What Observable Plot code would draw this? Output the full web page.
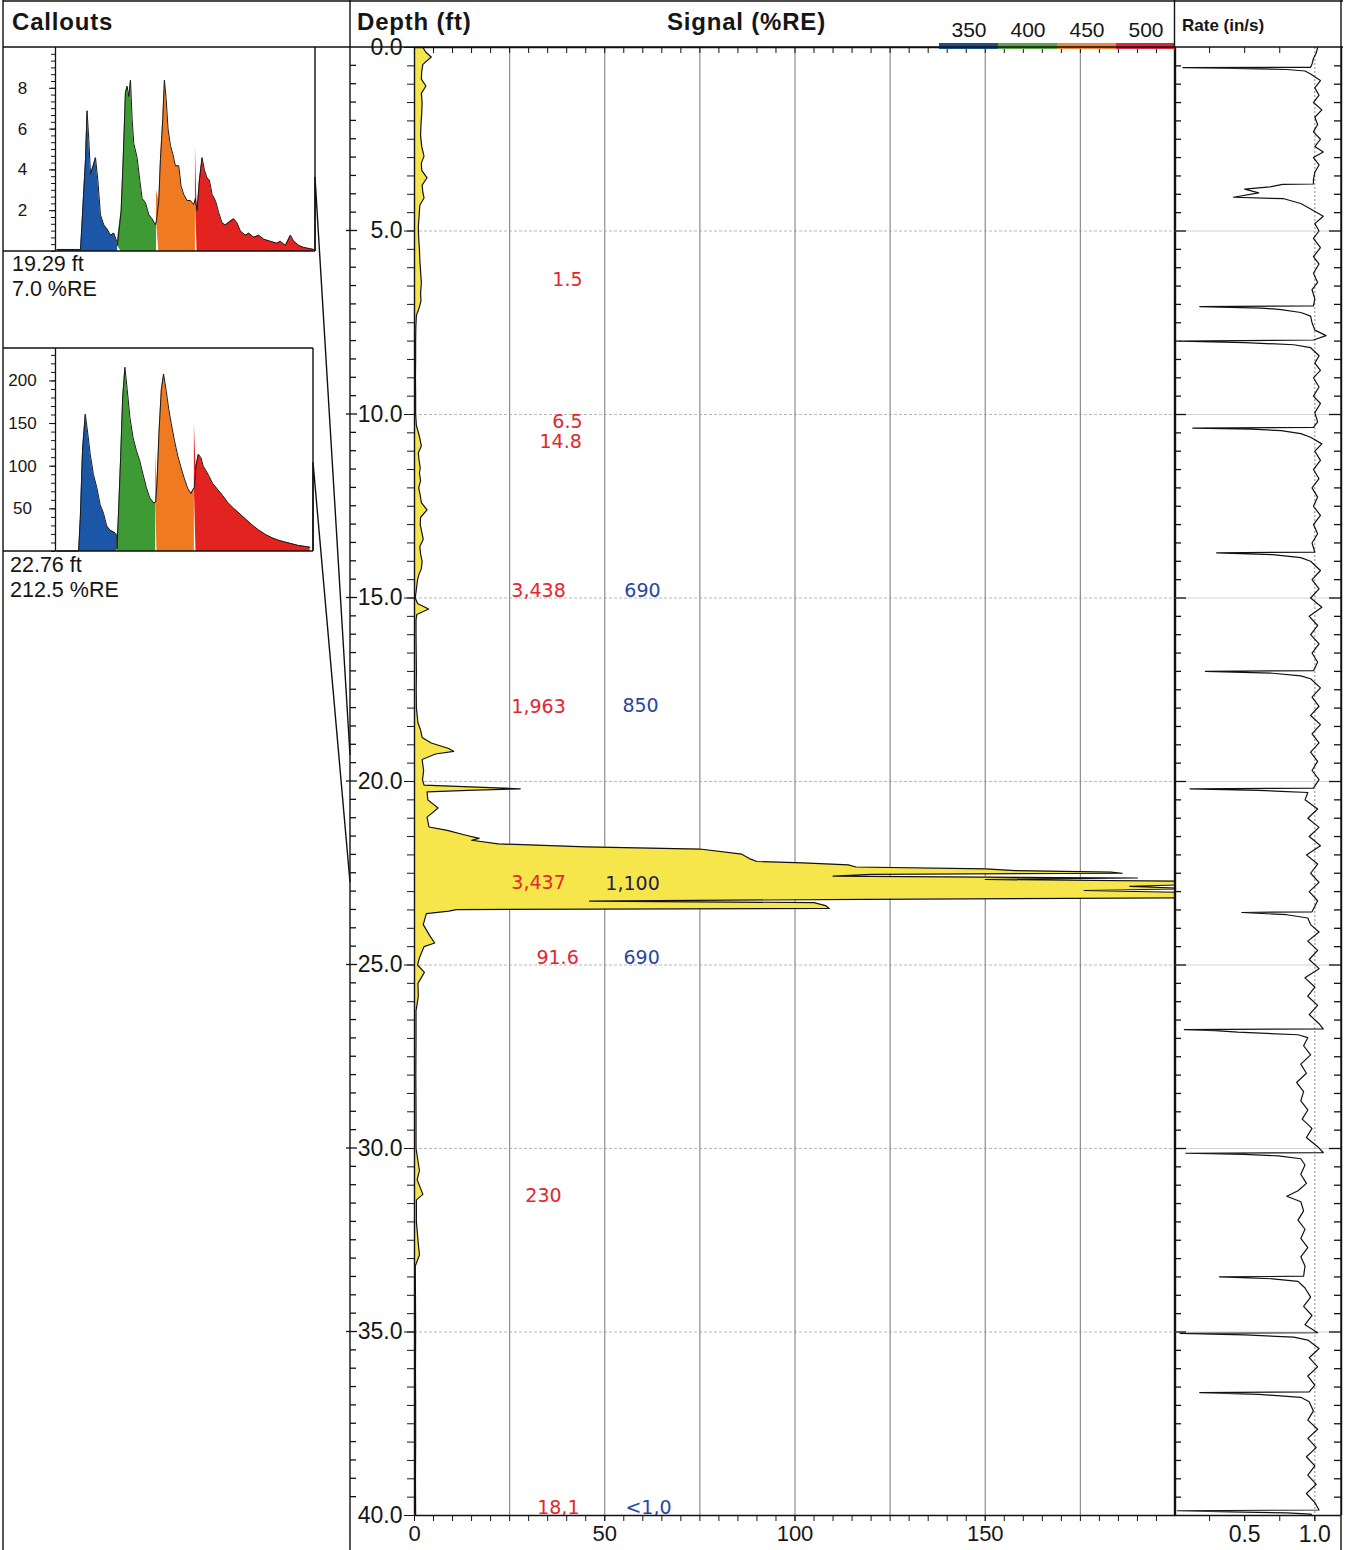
<!DOCTYPE html>
<html><head><meta charset="utf-8">
<script src="https://cdn.jsdelivr.net/npm/d3@7"></script>
<script src="https://cdn.jsdelivr.net/npm/@observablehq/plot@0.6"></script>
<style>
body{margin:0;background:#fff;}
#root{position:relative;width:1347px;height:1550px;overflow:hidden;background:#fff;font-family:"Liberation Sans",Arial,sans-serif;}
</style></head><body><div id="root"></div>
<script>
// ---------------- DATA ----------------
const signalDepth = [0.0,0.13,0.26,0.46,0.65,0.86,1.05,1.25,1.5,1.8,2.1,2.4,2.7,2.96,3.15,3.35,3.55,3.75,3.95,4.1,4.3,4.6,4.9,5.2,5.5,5.8,6.1,6.4,6.7,6.9,7.1,7.3,7.6,8.0,8.5,9.0,9.5,10.0,10.3,10.6,10.85,11.05,11.25,11.45,11.6,11.8,12.0,12.2,12.4,12.6,12.8,13.0,13.2,13.4,13.6,13.8,14.0,14.2,14.35,14.5,14.75,15.0,15.15,15.3,15.45,15.6,16.0,16.5,17.0,17.5,18.0,18.4,18.6,18.8,18.95,19.1,19.18,19.25,19.4,19.7,19.95,20.1,20.2,20.24,20.28,20.5,20.72,20.97,21.24,21.33,21.45,21.55,21.6,21.7,21.78,21.84,21.98,22.1,22.18,22.22,22.27,22.33,22.38,22.43,22.47,22.5,22.53,22.58,22.63,22.67,22.72,22.76,22.82,22.86,22.92,22.97,23.03,23.1,23.17,23.21,23.26,23.3,23.38,23.46,23.49,23.53,23.6,23.9,24.2,24.4,24.5,24.8,25.0,25.2,25.5,25.85,26.25,27.0,28.0,29.0,30.0,30.6,30.85,31.25,31.4,32.0,32.6,32.9,33.2,34.0,35.0,36.0,37.0,38.0,39.0,40.0];
const signalValue = [2.2,3.0,4.4,2.2,1.9,1.8,3.0,1.8,2.0,1.9,1.7,1.6,1.9,2.5,1.8,1.9,3.3,2.0,2.2,2.5,1.4,1.2,1.0,1.1,1.3,1.4,1.6,1.8,1.6,1.7,1.2,0.5,0.35,0.3,0.3,0.25,0.3,0.3,0.5,1.3,1.8,1.0,1.2,1.5,1.3,1.6,1.1,1.5,1.8,3.3,1.6,1.5,1.9,2.3,1.4,1.6,2.0,1.8,1.2,0.8,0.5,0.2,0.8,3.7,0.6,0.4,0.4,0.45,0.5,0.45,0.5,0.9,1.6,2.0,4.4,9.0,10.3,5.5,2.0,2.4,2.1,2.5,27.8,14,3.3,3.5,6.2,3.3,3.8,8.6,13,17,15,22,45,75,86,88,90,102,114,116,150,158,183,186,120,110,190,150,205,212.5,200,188,205,176,206,203,200,118,46,105,108,109,11,9,3.1,2.3,4.0,5.3,2.5,1.3,0.8,2.6,0.9,1.0,0.4,0.4,0.35,0.4,0.4,1.3,0.7,2.2,0.5,0.5,1.0,1.3,0.2,0.25,0.3,0.25,0.3,0.3,0.25,0.3];

const rateDepth = [0.0,0.15,0.3,0.45,0.54,0.55,0.57,0.6,0.64,0.72,0.9,1.1,1.3,1.5,1.7,1.9,2.1,2.3,2.5,2.7,2.85,3.0,3.2,3.4,3.6,3.72,3.73,3.8,3.86,3.96,4.08,4.12,4.25,4.4,4.6,4.8,5.0,5.2,5.45,5.7,5.9,6.15,6.4,6.6,6.85,7.04,7.06,7.1,7.14,7.22,7.32,7.5,7.7,7.85,7.97,8.0,8.04,8.1,8.18,8.4,8.6,8.8,9.0,9.25,9.5,9.7,9.95,10.2,10.35,10.37,10.4,10.44,10.52,10.62,10.8,11.0,11.25,11.5,11.75,12.0,12.25,12.5,12.75,13.0,13.25,13.5,13.75,13.77,13.82,13.9,14.0,14.25,14.5,14.75,15.0,15.25,15.5,15.75,16.0,16.25,16.5,16.75,16.98,17.0,17.05,17.12,17.2,17.45,17.7,17.95,18.2,18.45,18.7,18.95,19.2,19.45,19.7,19.95,20.18,20.2,20.24,20.27,20.3,20.5,20.75,21.0,21.25,21.5,21.75,22.0,22.25,22.5,22.75,23.0,23.25,23.55,23.57,23.63,23.72,23.9,24.1,24.35,24.6,24.85,25.1,25.35,25.6,25.85,26.1,26.35,26.6,26.74,26.76,26.79,26.83,26.9,26.98,27.2,27.45,27.7,27.95,28.2,28.45,28.7,28.95,29.2,29.45,29.7,29.95,30.11,30.13,30.16,30.2,30.28,30.45,30.7,30.95,31.15,31.3,31.45,31.7,31.95,32.2,32.45,32.7,32.95,33.2,33.48,33.5,33.55,33.62,33.8,34.05,34.3,34.55,34.8,35.02,35.04,35.08,35.14,35.22,35.45,35.7,35.95,36.2,36.45,36.63,36.65,36.7,36.78,36.9,37.15,37.4,37.65,37.9,38.15,38.4,38.65,38.9,39.15,39.4,39.65,39.85,39.87,39.9,39.93,39.96,40.0];
const rateValue = [1.02,1.01,0.99,0.98,0.97,0.06,0.42,0.8,0.93,0.97,1.04,1.0,1.03,0.99,1.05,1.0,1.02,0.99,1.04,1.0,1.06,0.99,1.03,1.0,0.99,0.99,0.77,0.68,0.5,0.6,0.42,0.78,0.9,0.97,1.06,1.0,1.03,0.99,1.04,0.99,1.03,0.99,1.02,0.98,1.0,0.99,0.18,0.62,0.76,0.9,0.97,0.98,1.0,1.08,0.99,0.04,0.5,0.85,0.97,1.03,1.0,1.04,0.99,1.03,0.99,1.04,1.0,1.02,0.99,0.13,0.55,0.76,0.9,0.97,1.05,1.0,1.04,0.99,1.03,0.98,1.02,0.99,1.04,0.99,1.02,0.98,1.0,0.3,0.7,0.9,0.97,1.04,0.98,1.03,0.97,1.05,0.96,1.02,0.97,1.03,0.98,1.02,0.99,0.22,0.7,0.9,0.97,1.04,0.98,1.03,0.97,1.04,0.98,1.03,0.97,1.02,0.98,1.03,0.99,0.11,0.6,0.76,0.95,0.93,1.02,0.95,1.03,0.96,1.04,0.94,1.02,0.97,1.03,0.96,1.02,0.98,0.48,0.8,0.95,0.97,1.03,0.95,1.02,0.96,1.03,0.93,1.0,0.95,1.02,0.96,1.03,1.06,0.07,0.29,0.45,0.88,0.95,0.92,0.97,0.9,0.94,0.87,0.92,0.9,0.95,0.91,0.98,0.94,1.02,1.06,0.08,0.5,0.74,0.9,0.93,0.9,0.94,0.88,0.8,0.9,0.92,0.88,0.93,0.9,0.95,0.9,0.93,0.92,0.32,0.7,0.88,0.93,0.97,0.92,0.98,0.93,1.02,0.04,0.5,0.85,0.95,1.03,0.96,1.02,0.95,1.0,0.96,0.18,0.6,0.9,0.96,0.99,0.95,1.02,0.95,1.01,0.94,1.0,0.95,1.01,0.94,1.0,1.03,0.02,0.4,0.8,0.97,0.98];

const bandLabels = ["350", "400", "450", "500"];
const bandEdges = [[0, 375], [375, 425], [425, 475], [475, 1000]];

const hist1Wl = [297.6,310,320,327.6,329.7,331.8,334,336,338.2,340.4,343.8,346.8,349.8,353.2,357.5,361.7,366,370.3,374,375,379.7,382.3,385.2,387.4,389.5,391.7,393.8,395.9,400.2,403.6,406.6,410.9,415.2,419.4,423.7,425,428,430.1,433.1,435.2,437.4,439.9,442.9,445.9,449.3,453.6,456.6,460,464.3,468.6,472.8,475,477.1,480.1,483.5,486.5,489.9,492.9,496.4,500.6,504.9,509.2,513.4,519.9,524.1,528.4,532.7,539.1,543.4,549.8,556.2,562.6,571.1,579.7,583.9,590.4,596.8,601.1,607.5,613.9,620.3,626.7];
const hist1Val = [0.1,0.1,0.1,0.1,1.5,3.0,4.5,6.9,5.5,3.8,4.2,4.6,3.5,1.8,1.3,1.1,0.8,0.9,0.5,0.3,2.0,4.5,7.8,8.1,7.6,8.4,6.5,5.3,4.6,3.5,2.6,2.4,1.8,1.6,1.3,1.5,2.5,4.5,6.5,8.4,7.5,6.0,5.2,4.8,4.2,4.2,3.2,2.8,2.5,2.5,2.3,2.6,2.0,3.5,4.6,4.0,3.6,3.5,2.8,2.5,1.9,1.4,1.3,1.5,1.6,1.4,1.0,0.8,0.9,0.7,0.8,0.6,0.5,0.4,0.5,0.3,0.8,0.5,0.3,0.2,0.15,0.1];

const hist2Wl = [297.6,315,325.4,327.6,330.5,334,337,340.4,344.6,348.9,353.2,357.5,361.7,366,372.4,374.5,375,376.7,379.7,382.3,385.2,388.2,391.7,395.9,400.2,404.5,408.8,413,417.3,422.4,425,426.7,429.3,432.3,435.2,438.7,441.7,445.1,449.3,453.6,457.9,462.2,466.4,470.7,472.8,475,477.1,480.1,483.5,486.5,489.9,494.2,498.5,504.9,511.3,517.7,524.1,532.7,541.2,549.8,558.3,566.9,575.4,584.5,592.5,601.1,609.6,618.2,624.6];
const hist2Val = [0.5,0.5,0.5,40,120,161,140,114,90,75,55,45,30,25,22,20,3,40,110,180,216,190,157,133,118,106,90,75,63,57,58,80,140,190,208,188,168,150,130,112,98,85,74,68,72,75,100,114,110,100,95,88,80,73,66,58,52,45,38,31,25,20,16,13,11,9,7,6,5];

const calloutDepth = [19.29, 22.76];
const calloutSignal = [7.0, 212.5];

const annText  = ["1.5","6.5","14.8","3,438","690","1,963","850","3,437","1,100","91.6","690","230","18,1","<1,0"];
const annDepth = [6.32,10.19,10.74,14.8,14.8,17.96,17.93,22.75,22.8,24.8,24.8,31.3,39.78,39.78];
const annX     = [40.2,40.2,38.4,32.6,59.9,32.6,59.4,32.6,57.3,37.6,59.7,33.9,37.8,61.5];
const annKind  = ["red","red","red","red","blue","red","blue","red","dark","red","blue","red","red","blue"];

// ---------------- STYLE / LAYOUT ----------------
const W = 1347, H = 1550;
const TOP = 47, BOTTOM = 1515;
const FONT = "'Liberation Sans', Arial, sans-serif";
const histPalette = ["#1b57a6", "#3d9a34", "#f07a22", "#e2231f"];
const legendPalette = ["#1f4f8a", "#5aa447", "#f0883a", "#d9283a"];
const annColors = {red: "#e3262e", blue: "#2747a0", dark: "#1e2050"};
const root = document.getElementById("root");
function place(el, left, top) {
  el.style.position = "absolute";
  el.style.left = left + "px";
  el.style.top = top + "px";
  el.style.maxWidth = "none";
  root.appendChild(el);
}
const baseStyle = {background: "transparent", fontFamily: FONT, color: "#161616", overflow: "visible"};
const pxPerFt = (BOTTOM - TOP) / 40;
const noText = () => "";

// ---------------- MAIN SIGNAL PANEL ----------------
const signal = signalDepth.map((d, i) => ({d, v: signalValue[i]}));
const annotations = annText.map((t, i) => ({t, d: annDepth[i], x: annX[i], k: annKind[i]}));
const mainLeft = 350, mainW = 825, mainML = 64;

const main = Plot.plot({
  width: mainW, height: H,
  marginLeft: mainML, marginRight: 0, marginTop: TOP, marginBottom: H - BOTTOM,
  style: baseStyle,
  x: {domain: [0, 200], axis: null, label: null},
  y: {domain: [0, 40], reverse: true, axis: null, label: null},
  marks: [
    Plot.ruleY(d3.range(5, 40, 5), {stroke: "#b8b8b8", strokeDasharray: "3,2", strokeWidth: 1}),
    Plot.ruleX(d3.range(25, 200, 25), {stroke: "#8e8e8e", strokeWidth: 1.2}),
    Plot.areaX(signal, {x: "v", y: "d", fill: "#f6e64c", clip: true}),
    Plot.line(signal, {x: "v", y: "d", stroke: "#111", strokeWidth: 1.2, clip: true}),
    ...Object.keys(annColors).map(k =>
      Plot.text(annotations.filter(a => a.k === k), {x: "x", y: "d", text: "t", fill: annColors[k], fontSize: 19, fontFamily: "'DejaVu Sans', Verdana, sans-serif"})),
    Plot.ruleX([0, 200], {stroke: "#111", strokeWidth: 1.4}),
    Plot.ruleY([0, 40], {stroke: "#111", strokeWidth: 1.4}),
    Plot.ruleX(d3.range(5, 200, 5), {y1: 0, y2: 6 / pxPerFt, stroke: "#111"}),
    Plot.axisY({ticks: d3.range(0, 40.01, 0.5), anchor: "left", tickSize: 7, tickFormat: noText, label: null}),
    Plot.axisY({ticks: d3.range(0, 40.01, 5), anchor: "left", tickSize: 10, tickPadding: 2, tickFormat: d3.format(".1f"), fontSize: 23, label: null}),
    Plot.axisX({ticks: d3.range(0, 200, 5), anchor: "bottom", tickSize: 6, tickFormat: noText, label: null}),
    Plot.axisX({ticks: [0, 50, 100, 150], anchor: "bottom", tickSize: 6, tickPadding: 4, fontSize: 22, label: null})
  ]
});
place(main, mainLeft, 0);
const yMain = d => main.scale("y").apply(d);

// ---------------- RATE PANEL ----------------
const rateRows = rateDepth.map((d, i) => ({d, r: rateValue[i]}));
const rateLeft = 1174, rateW = 167, rateMax = 1.19;
const pxPerRate = rateW / rateMax;
const depthTicks = d3.range(0.5, 40, 0.5);
const tickLen = d => (d % 5 === 0 ? 12 : 7) / pxPerRate;
const rate = Plot.plot({
  width: rateW, height: H,
  marginLeft: 0, marginRight: 0, marginTop: TOP, marginBottom: H - BOTTOM,
  style: baseStyle,
  x: {domain: [0, rateMax], axis: null, label: null},
  y: {domain: [0, 40], reverse: true, axis: null, label: null},
  marks: [
    Plot.ruleY(d3.range(5, 40, 5), {stroke: "#d2d2d2", strokeWidth: 1}),
    Plot.ruleX([1.0], {stroke: "#8a8a8a", strokeDasharray: "2,2"}),
    Plot.line(rateRows, {x: "r", y: "d", stroke: "#111", strokeWidth: 1.2}),
    Plot.ruleX([0, rateMax], {stroke: "#111", strokeWidth: 1.4}),
    Plot.ruleY([40], {stroke: "#111", strokeWidth: 1.4}),
    Plot.ruleY(depthTicks, {x1: 0, x2: tickLen, stroke: "#111", strokeWidth: 1.3}),
    Plot.ruleY(depthTicks, {x1: d => rateMax - tickLen(d), x2: rateMax, stroke: "#111", strokeWidth: 1.3}),
    Plot.ruleX([0.25, 0.5, 0.75], {y1: 0, y2: 6 / pxPerFt, stroke: "#111"}),
    Plot.axisX({ticks: [0.25, 0.5, 0.75, 1.0], anchor: "bottom", tickSize: 6, tickFormat: noText, label: null}),
    Plot.axisX({ticks: [0.5, 1.0], anchor: "bottom", tickSize: 6, tickPadding: 4, fontSize: 23, tickFormat: d3.format(".1f"), label: null})
  ]
});
place(rate, rateLeft, 0);

// ---------------- CALLOUT HISTOGRAMS ----------------
function histPlot(wl, val, opts) {
  const rows = [];
  wl.forEach((w, i) => bandEdges.forEach((b, j) => {
    if (w >= b[0] && w <= b[1]) rows.push({w, v: val[i], band: bandLabels[j]});
  }));
  const pts = wl.map((w, i) => ({w, v: val[i]}));
  return Plot.plot({
    width: opts.width, height: opts.height,
    marginLeft: 52, marginRight: 0, marginTop: 0, marginBottom: 0,
    style: baseStyle,
    x: {domain: [295.5, 629], axis: null, label: null},
    y: {domain: [0, opts.yMax], axis: null, label: null},
    color: {domain: bandLabels, range: histPalette},
    marks: [
      Plot.areaY(rows, {x: "w", y: "v", z: "band", fill: "band"}),
      Plot.line(pts, {x: "w", y: "v", stroke: "#1a1a1a", strokeWidth: 1}),
      Plot.ruleX([295.5], {stroke: "#111", strokeWidth: 1.3}),
      Plot.axisY({ticks: opts.minor, anchor: "left", tickSize: 4, tickFormat: noText, label: null}),
      Plot.axisY({ticks: opts.major, anchor: "left", tickSize: 6, tickPadding: 27, textAnchor: "middle", fontSize: 17, label: null})
    ]
  });
}
const h1 = histPlot(hist1Wl, hist1Val, {width: 312, height: 204, yMax: 10, minor: d3.range(0, 10, 1 / 3), major: [2, 4, 6, 8]});
place(h1, 3, TOP);
const h2 = histPlot(hist2Wl, hist2Val, {width: 310, height: 203, yMax: 238, minor: d3.range(0, 238, 10), major: [50, 100, 150, 200]});
place(h2, 3, 348);

// ---------------- LEGEND ----------------
const legend = Plot.plot({
  width: 236, height: 50, margin: 0,
  style: baseStyle,
  x: {domain: bandLabels, padding: 0, axis: null, label: null},
  color: {domain: bandLabels, range: legendPalette},
  marks: [
    Plot.cell(bandLabels, {x: d => d, fill: d => d, insetTop: 43, insetBottom: 1}),
    Plot.text(bandLabels, {x: d => d, text: d => d, fontSize: 21, frameAnchor: "top", lineAnchor: "middle", dy: 30, fill: "#161616"})
  ]
});
place(legend, 939, 0);

// ---------------- OVERLAY: frames, headers, connectors ----------------
const ov = d3.create("svg").attr("width", W).attr("height", H)
  .style("position", "absolute").style("left", "0px").style("top", "0px")
  .style("font-family", FONT).style("pointer-events", "none");
const line = (x1, y1, x2, y2, w = 1.4, c = "#111") =>
  ov.append("line").attr("x1", x1).attr("y1", y1).attr("x2", x2).attr("y2", y2).attr("stroke", c).attr("stroke-width", w);
line(3, 1, 1343, 1);
line(3, 0, 3, H);
line(1341, 0, 1341, H);
line(3, TOP, 1343, TOP);
line(mainLeft, 0, mainLeft, H);
line(rateLeft + 0.5, 0, rateLeft + 0.5, TOP);
// callout boxes
line(315, TOP, 315, 251);
line(3, 251, 315, 251);
line(3, 348, 313, 348);
line(313, 348, 313, 551);
line(3, 551, 313, 551);
// connectors from callouts to depth
const conn = [[[315, 251], [315, 177], [mainLeft, yMain(calloutDepth[0])]],
              [[313, 551], [313, 462], [mainLeft, yMain(calloutDepth[1])]]];
conn.forEach(p => ov.append("polyline").attr("points", p.map(q => q.join(",")).join(" "))
  .attr("fill", "none").attr("stroke", "#111").attr("stroke-width", 1.4));
// ticks on main panel border
d3.range(0.5, 40, 0.5).forEach(d => {
  const y = yMain(d);
  if (d % 5 === 0) line(mainLeft - 4, y, mainLeft + 7, y, 1.3);
  else line(mainLeft, y, mainLeft + 6, y, 1.3);
});
const txt = (s, x, y, size, weight = "normal", ls = 0) =>
  ov.append("text").attr("x", x).attr("y", y).attr("font-size", size).attr("font-weight", weight)
    .attr("letter-spacing", ls).attr("fill", "#161616").text(s);
txt("Callouts", 12, 30, 24, "bold", 0.8);
txt("Depth (ft)", 357, 30, 24, "bold", 0.8);
txt("Signal (%RE)", 667, 30, 24, "bold", 0.8);
txt("Rate (in/s)", 1182, 31, 17, "bold");
const cTextY = [[271, 296], [572, 597]];
const cTextX = [12, 10];
calloutDepth.forEach((d, i) => {
  txt(d3.format(".2f")(d) + " ft", cTextX[i], cTextY[i][0], 21.5);
  txt(d3.format(".1f")(calloutSignal[i]) + " %RE", cTextX[i], cTextY[i][1], 21.5);
});
root.appendChild(ov.node());
</script>
</body></html>
